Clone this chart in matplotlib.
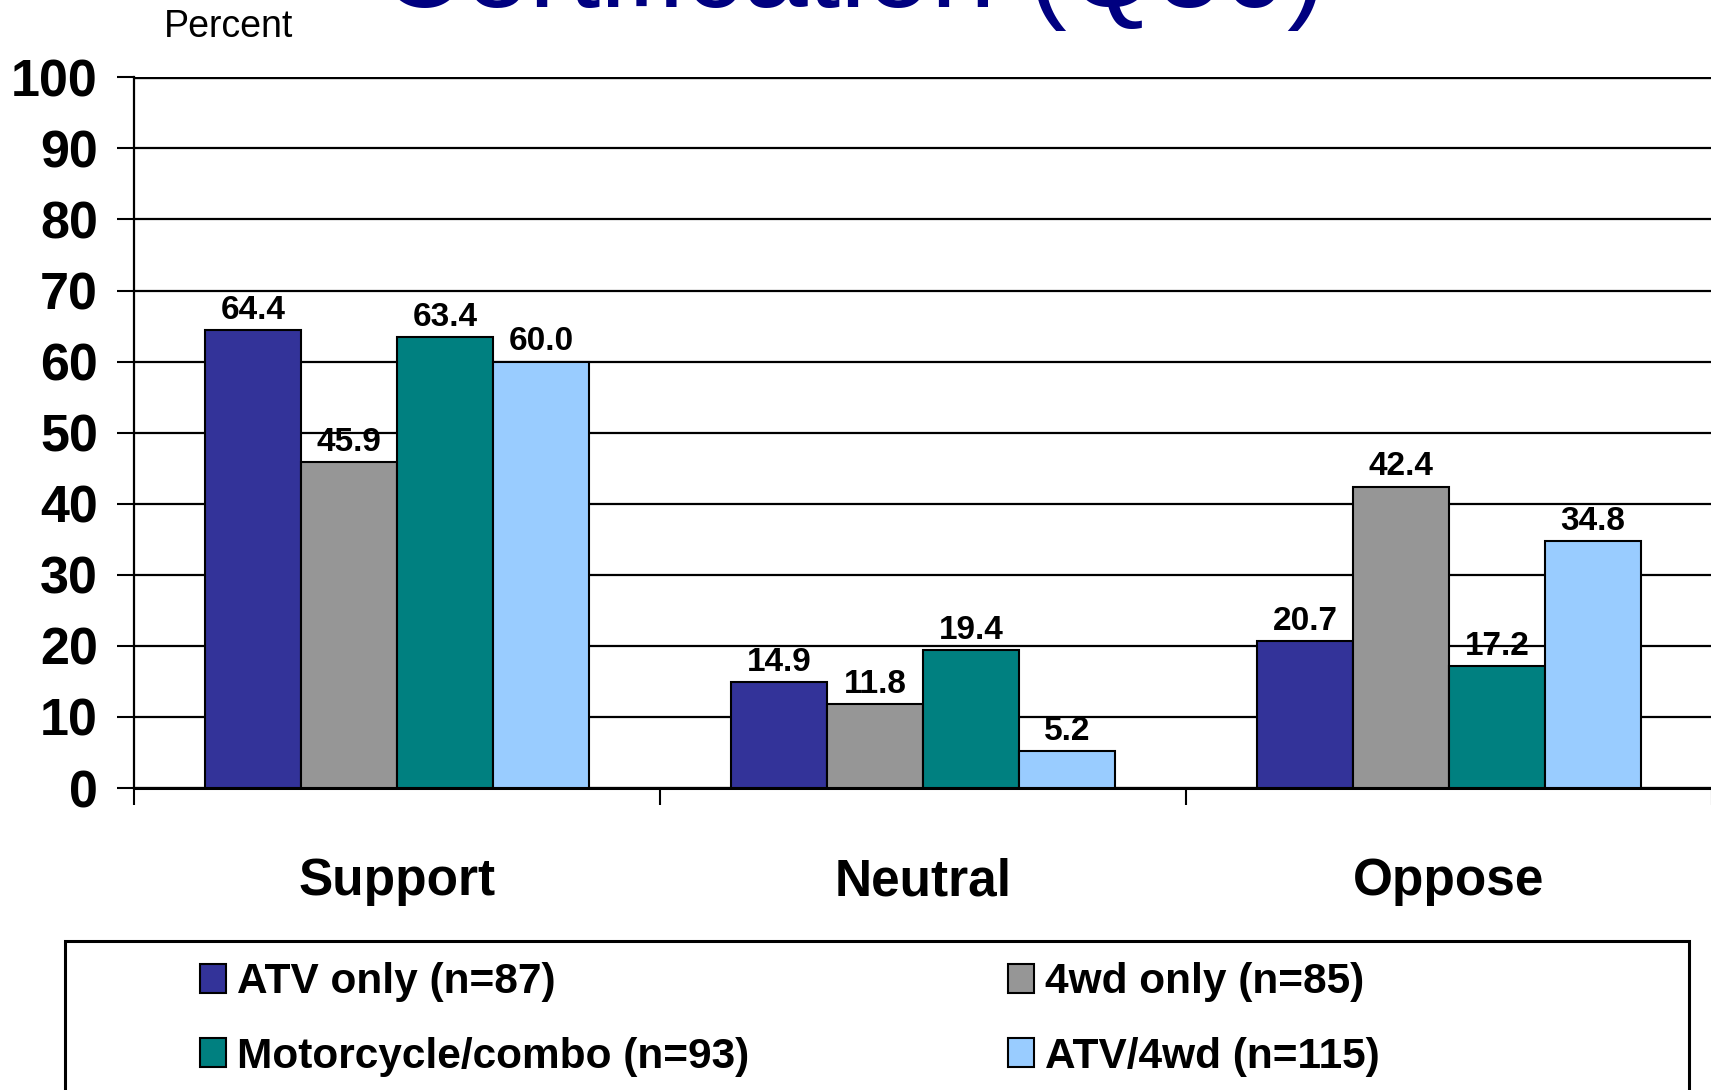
import matplotlib
matplotlib.use("Agg")
import matplotlib.pyplot as plt
import numpy as np
from matplotlib.patches import Rectangle
from matplotlib.ticker import FixedLocator

categories = ["Support", "Neutral", "Oppose"]
series_names = ["ATV only (n=87)", "4wd only (n=85)", "Motorcycle/combo (n=93)", "ATV/4wd (n=115)"]
atv_only = [64.4, 14.9, 20.7]
fourwd_only = [45.9, 11.8, 42.4]
motorcycle_combo = [63.4, 19.4, 17.2]
atv_4wd = [60.0, 5.2, 34.8]
yticks = [0, 10, 20, 30, 40, 50, 60, 70, 80, 90, 100]
title_text = "Certification (Q50)"
ylabel_text = "Percent"

colors = ["#333399", "#969696", "#008080", "#99CCFF"]
series = [atv_only, fourwd_only, motorcycle_combo, atv_4wd]

plt.rcParams['font.family'] = ['Liberation Sans', 'DejaVu Sans']

W, H = 1711, 1090
fig = plt.figure(figsize=(W / 100, H / 100), dpi=100)
ax_left = 134 / W
ax_bottom = (H - 788) / H
ax_height = (788 - 77.3) / H
ax_width = (1712 - 134) / W
ax = fig.add_axes([ax_left, ax_bottom, ax_width, ax_height])

x = np.arange(len(categories))
bw = 0.1826
for i, (vals, col) in enumerate(zip(series, colors)):
    pos = x + (i - 1.5) * bw
    bars = ax.bar(pos, vals, width=bw, color=col, edgecolor="black", linewidth=1.5,
                  label=series_names[i], zorder=3)
    for b, v in zip(bars, vals):
        ax.annotate(f"{v:.1f}", (b.get_x() + b.get_width() / 2, v),
                    xytext=(0, 3), textcoords="offset points",
                    ha="center", va="bottom", fontsize=24, fontweight="bold", zorder=4)

ax.set_xlim(-0.5, 2.5)
ax.set_ylim(0, 100)
ax.set_yticks(yticks)
ax.set_yticklabels([str(t) for t in yticks], fontsize=37.5, fontweight="bold")
ax.tick_params(axis="y", direction="out", length=12, width=1.5, pad=14)
ax.grid(axis="y", color="black", linewidth=1.6, zorder=1)

ax.set_xticks(x)
ax.set_xticklabels(categories, fontsize=37, fontweight="bold")
ax.tick_params(axis="x", which="major", length=0, pad=50)
ax.xaxis.set_minor_locator(FixedLocator([-0.5, 0.5, 1.5, 2.5]))
ax.tick_params(axis="x", which="minor", direction="out", length=12, width=1.5)

for s in ["top", "right"]:
    ax.spines[s].set_visible(False)
ax.spines["left"].set_linewidth(1.6)
ax.spines["bottom"].set_linewidth(2.2)
ax.axhline(100, color="black", linewidth=2.4, zorder=2)

fig.text(164 / W, 1 - 37 / H, ylabel_text, fontsize=27, ha="left", va="baseline")
fig.text(853 / W, 1 - 7 / H, title_text, fontsize=84, color="#000080",
         ha="center", va="baseline")

# legend frame
frame = Rectangle((65 / W, -0.05), (1689 - 65) / W, (H - 941) / H + 0.05,
                  transform=fig.transFigure, facecolor="white", edgecolor="black",
                  linewidth=2.2, clip_on=False)
fig.patches.append(frame)

handles, labels = ax.get_legend_handles_labels()
order = [0, 2, 1, 3]
leg = fig.legend([handles[k] for k in order], [labels[k] for k in order],
                 loc="upper left", bbox_to_anchor=(200 / W, 1 - 962 / H),
                 ncol=2, frameon=False, prop={"size": 30.5, "weight": "bold"},
                 handlelength=0.62, handleheight=0.67, handletextpad=0.26,
                 columnspacing=6.1, labelspacing=0.82, borderpad=0, borderaxespad=0)

fig.savefig("out.png", dpi=100)
